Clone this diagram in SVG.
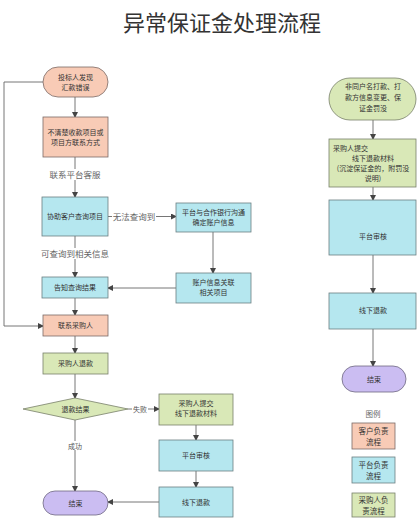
<svg xmlns="http://www.w3.org/2000/svg" width="418" height="521" viewBox="0 0 418 521">
<defs>
<marker id="arr" markerWidth="6" markerHeight="6" refX="5" refY="3" orient="auto" markerUnits="userSpaceOnUse">
<path d="M0,0 L6,3 L0,6 Z" fill="#444"/>
</marker>
<style>
text{font-family:"Noto Sans CJK SC","Liberation Sans",sans-serif;}
.t{font-size:7px;fill:#333;text-anchor:middle;}
.lb{font-size:8.5px;fill:#666;text-anchor:middle;}
.ls{font-size:7px;fill:#555;text-anchor:middle;}
.c{fill:#F8CBB6;stroke:#7a6a66;stroke-width:0.8;}
.p{fill:#B5E7EF;stroke:#6b7f82;stroke-width:0.8;}
.g{fill:#D9E8B7;stroke:#78806a;stroke-width:0.8;}
.e{fill:#CBBDF2;stroke:#6e6880;stroke-width:0.8;}
.ln{fill:none;stroke:#666;stroke-width:0.9;marker-end:url(#arr);}
.nl{fill:none;stroke:#666;stroke-width:0.9;}
.bg{fill:#fff;}
</style>
</defs>
<rect width="418" height="521" fill="#fff"/>
<text x="222" y="31" style="font-size:22px;fill:#333;text-anchor:middle;">异常保证金处理流程</text>

<g id="connectors">
<path class="ln" d="M75,97 L75,117"/>
<path class="ln" d="M75,157 L75,197"/>
<path class="ln" d="M108,216.5 L176,216.5"/>
<path class="ln" d="M213,232 L213,273"/>
<path class="ln" d="M176,288 L108,288"/>
<path class="ln" d="M75,236 L75,277"/>
<path class="ln" d="M75,298 L75,315"/>
<path class="ln" d="M43,82 L4,82 L4,326 L43,326"/>
<path class="ln" d="M75,336 L75,353"/>
<path class="ln" d="M75,374 L75,398"/>
<path class="ln" d="M128,409 L159,409"/>
<path class="ln" d="M196,425 L196,440"/>
<path class="ln" d="M196,471 L196,487"/>
<path class="ln" d="M159,502 L108,502"/>
<path class="ln" d="M75,420 L75,491"/>
<path class="ln" d="M373,120 L373,139"/>
<path class="ln" d="M373,187 L373,200"/>
<path class="ln" d="M373,255 L373,293"/>
<path class="ln" d="M373,329 L373,366"/>
<rect class="bg" x="47" y="169" width="56" height="11"/>
<text class="lb" x="75" y="178">联系平台客服</text>
<rect class="bg" x="112" y="211" width="44" height="11"/>
<text class="lb" x="134" y="220">无法查询到</text>
<rect class="bg" x="40" y="248" width="70" height="11"/>
<text class="lb" x="75" y="257">可查询到相关信息</text>
<rect class="bg" x="132" y="404" width="16" height="9"/>
<text class="ls" x="140" y="411.5">失败</text>
<rect class="bg" x="66" y="441" width="18" height="9"/>
<text class="ls" x="75" y="448.5">成功</text>
</g>

<g id="start">
<rect class="c" x="43" y="67" width="65" height="30" rx="15"/>
<text class="t" x="75.5" y="80">投标人发现</text>
<text class="t" x="75.5" y="90">汇款错误</text>
</g>
<g id="unknown">
<rect class="c" x="43" y="117" width="65" height="40"/>
<text class="t" x="75.5" y="135">不清楚收款项目或</text>
<text class="t" x="75.5" y="145">项目方联系方式</text>
</g>
<g id="assist">
<rect class="p" x="42" y="197" width="66" height="39"/>
<text class="t" x="75" y="219">协助客户查询项目</text>
</g>
<g id="bank">
<rect class="p" x="176" y="203" width="75" height="29"/>
<text class="t" x="213.5" y="215">平台与合作银行沟通</text>
<text class="t" x="213.5" y="225">确定账户信息</text>
</g>
<g id="link">
<rect class="p" x="176" y="273" width="75" height="30"/>
<text class="t" x="213.5" y="285">账户信息关联</text>
<text class="t" x="213.5" y="295">相关项目</text>
</g>
<g id="inform">
<rect class="p" x="42" y="277" width="66" height="21"/>
<text class="t" x="75" y="290">告知查询结果</text>
</g>
<g id="contact">
<rect class="c" x="43" y="315" width="65" height="21"/>
<text class="t" x="75.5" y="328">联系采购人</text>
</g>
<g id="refund">
<rect class="g" x="43" y="353" width="65" height="21"/>
<text class="t" x="75.5" y="366">采购人退款</text>
</g>
<g id="result">
<path class="g" d="M75,398 L128,409 L75,420 L23,409 Z"/>
<text class="t" x="75.5" y="412">退款结果</text>
</g>
<g id="submit1">
<rect class="g" x="159" y="394" width="74" height="31"/>
<text class="t" x="196" y="406">采购人提交</text>
<text class="t" x="196" y="416">线下退款材料</text>
</g>
<g id="audit1">
<rect class="p" x="159" y="440" width="74" height="31"/>
<text class="t" x="196" y="458">平台审核</text>
</g>
<g id="offline1">
<rect class="p" x="159" y="487" width="74" height="30"/>
<text class="t" x="196" y="504.5">线下退款</text>
</g>
<g id="end1">
<rect class="e" x="43" y="491" width="65" height="24" rx="12"/>
<text class="t" x="75.5" y="505.5">结束</text>
</g>

<g id="start2">
<rect class="g" x="329" y="78" width="87" height="42" rx="21"/>
<text class="t" x="373" y="89">非同户名打款、打</text>
<text class="t" x="373" y="100">款方信息变更、保</text>
<text class="t" x="373" y="111">证金罚没</text>
</g>
<g id="submit2">
<rect class="g" x="329" y="139" width="87" height="48"/>
<text class="t" x="333" y="151" style="text-anchor:start">采购人提交</text>
<text class="t" x="373" y="161">线下退款材料</text>
<text class="t" x="373" y="171">(沉淀保证金的，附罚没</text>
<text class="t" x="373" y="181">说明)</text>
</g>
<g id="audit2">
<rect class="p" x="329" y="200" width="87" height="55"/>
<text class="t" x="373" y="239">平台审核</text>
</g>
<g id="offline2">
<rect class="p" x="329" y="293" width="87" height="36"/>
<text class="t" x="373" y="313">线下退款</text>
</g>
<g id="end2">
<rect class="e" x="342" y="366" width="64" height="26" rx="13"/>
<text class="t" x="374" y="381.5">结束</text>
</g>

<g id="legend">
<text x="373" y="417" style="font-size:7.5px;fill:#666;text-anchor:middle;">图例</text>
<rect class="c" x="352" y="423" width="43" height="26"/>
<text class="t" x="373.5" y="434" style="font-size:7.5px">客户负责</text>
<text class="t" x="373.5" y="445" style="font-size:7.5px">流程</text>
<rect class="p" x="352" y="457" width="43" height="26"/>
<text class="t" x="373.5" y="468" style="font-size:7.5px">平台负责</text>
<text class="t" x="373.5" y="479" style="font-size:7.5px">流程</text>
<rect class="g" x="352" y="493" width="43" height="24"/>
<text class="t" x="373.5" y="503" style="font-size:7.5px">采购人负</text>
<text class="t" x="373.5" y="514" style="font-size:7.5px">责流程</text>
</g>
</svg>
